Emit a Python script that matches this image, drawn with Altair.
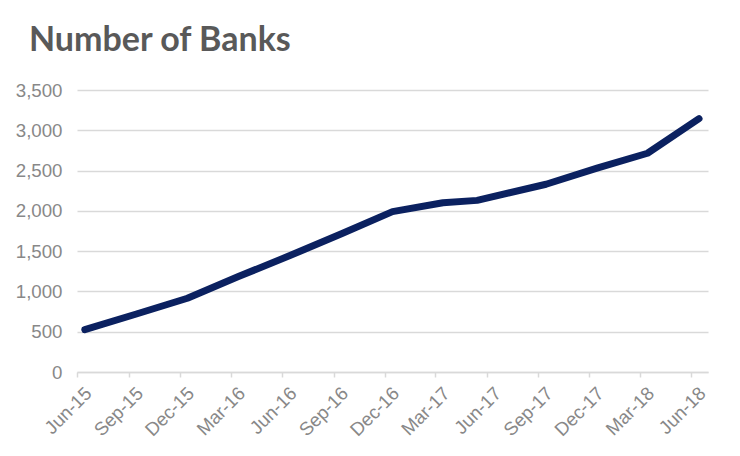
import altair as alt
import pandas as pd

# Data
dates = ["2015-06-15", "2015-09-15", "2015-12-15", "2016-03-15", "2016-06-15",
         "2016-09-15", "2016-12-15", "2017-03-15", "2017-05-15", "2017-09-15",
         "2017-12-15", "2018-03-15", "2018-06-15"]
banks = [525, 720, 915, 1185, 1445, 1715, 1990, 2100, 2130, 2330, 2530, 2715, 3145]

tick_dates = ["2015-06-01", "2015-09-01", "2015-12-01", "2016-03-01", "2016-06-01",
              "2016-09-01", "2016-12-01", "2017-03-01", "2017-06-01", "2017-09-01",
              "2017-12-01", "2018-03-01", "2018-06-01"]
y_ticks = [0, 500, 1000, 1500, 2000, 2500, 3000, 3500]

df = pd.DataFrame({"date": dates, "banks": banks})


def dt(s):
    y, m, d = (int(p) for p in s.split("-"))
    return alt.DateTime(year=y, month=m, date=d, utc=True)


chart = (
    alt.Chart(df)
    .mark_line(color="#0b2160", strokeWidth=7, strokeCap="round", strokeJoin="round")
    .encode(
        x=alt.X(
            "date:T",
            scale=alt.Scale(type="utc", domain=[dt("2015-06-01"), dt("2018-07-01")]),
            axis=alt.Axis(
                values=[dt(s) for s in tick_dates],
                labelExpr="utcFormat(datum.value, '%b-%y')",
                labelAngle=-45,
                labelAlign="right",
                labelBaseline="middle",
                labelFont="Liberation Sans",
                labelFontSize=18.7,
                labelColor="#888888",
                labelPadding=13,
                labelOffset=11,
                labelOverlap=False,
                labelFlush=False,
                domainColor="#d9d9d9",
                domainWidth=1.5,
                tickColor="#d9d9d9",
                tickWidth=1.5,
                tickSize=5,
                grid=False,
                title=None,
            ),
        ),
        y=alt.Y(
            "banks:Q",
            scale=alt.Scale(domain=[0, 3500]),
            axis=alt.Axis(
                values=y_ticks,
                format=",.0f",
                labelFont="Liberation Sans",
                labelFontSize=18.7,
                labelColor="#888888",
                labelPadding=15,
                domain=False,
                ticks=False,
                gridColor="#d9d9d9",
                gridWidth=1.5,
                title=None,
            ),
        ),
    )
    .properties(
        width=631,
        height=282,
        autosize=alt.AutoSizeParams(type="none"),
        padding={"left": 69, "top": 82, "right": 24, "bottom": 76},
        title=alt.TitleParams(
            "Number of Banks",
            anchor="start",
            frame="group",
            font="Lato",
            fontSize=34,
            fontWeight="bold",
            color="#595959",
            baseline="alphabetic",
            offset=0,
            dx=-48,
            dy=4,
        ),
    )
    .configure_view(stroke=None)
)

chart.save("out.html", embed_options={"renderer": "svg", "actions": False})
